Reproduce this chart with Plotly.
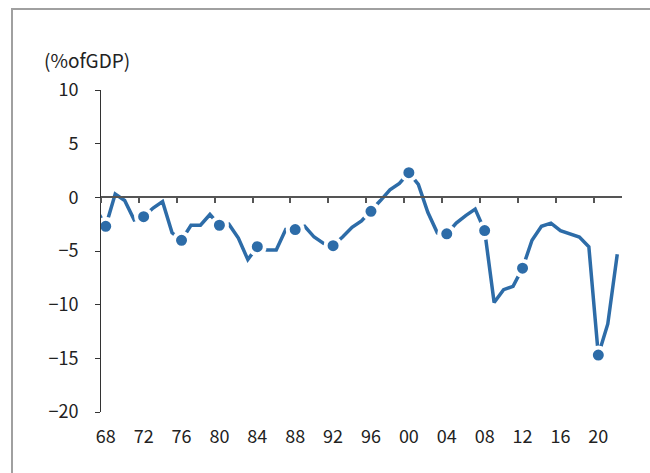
import plotly.graph_objects as go

years = list(range(1967, 2023))
balance = [-1.1, -2.7, 0.3, -0.3, -2.1, -1.8, -1.0, -0.4, -3.3, -4.0,
           -2.6, -2.6, -1.6, -2.6, -2.5, -3.8, -5.8, -4.6, -4.9, -4.9,
           -3.0, -3.0, -2.7, -3.7, -4.3, -4.5, -3.7, -2.8, -2.2, -1.3,
           -0.3, 0.7, 1.3, 2.3, 1.2, -1.4, -3.3, -3.4, -2.4, -1.7,
           -1.1, -3.1, -9.8, -8.6, -8.3, -6.6, -4.0, -2.7, -2.4, -3.1,
           -3.4, -3.7, -4.6, -14.7, -11.8, -5.3]
tick_years = list(range(1968, 2021, 4))
tick_labels = ["68", "72", "76", "80", "84", "88", "92", "96", "00",
               "04", "08", "12", "16", "20"]
marker_years = [1968, 1972, 1976, 1980, 1984, 1988, 1992, 1996, 2000,
                2004, 2008, 2012, 2020]
y_ticks = [10, 5, 0, -5, -10, -15, -20]

lookup = dict(zip(years, balance))
marker_vals = [lookup[y] for y in marker_years]

color = "#2d6ca8"
font = "Noto Sans CJK KR"

fig = go.Figure()
fig.add_trace(go.Scatter(x=years, y=balance, mode="lines",
                         line=dict(color=color, width=3.5),
                         hoverinfo="skip", showlegend=False))
fig.add_trace(go.Scatter(x=marker_years, y=marker_vals, mode="markers",
                         xaxis="x2", yaxis="y",
                         marker=dict(color=color, size=15,
                                     line=dict(color="white", width=4)),
                         cliponaxis=False, showlegend=False))

xr = [1967.5, 2022.5]
fig.update_layout(
    width=650, height=473,
    margin=dict(l=101, r=28, t=90, b=61),
    paper_bgcolor="white", plot_bgcolor="white",
    font=dict(family=font, size=18, color="#222"),
    xaxis=dict(range=xr, tickmode="array", tickvals=tick_years,
               ticktext=tick_labels, showline=False, ticks="",
               showgrid=False, zeroline=False, ticklabelstandoff=12,
               tickfont=dict(size=18, color="#222")),
    xaxis2=dict(range=xr, overlaying="x", anchor="free", position=2/3,
                side="bottom", showline=True, linecolor="#555", linewidth=2,
                ticks="outside", ticklen=5, tickwidth=2, tickcolor="#555",
                tickmode="array",
                tickvals=[y - 0.5 for y in tick_years],
                showticklabels=False, showgrid=False, zeroline=False),
    yaxis=dict(range=[-20, 10], tickmode="array", tickvals=y_ticks,
               showline=True, linecolor="#333", linewidth=1,
               ticks="outside", ticklen=5, tickcolor="#333", tickwidth=1,
               showgrid=False, zeroline=False,
               ticklabelstandoff=13,
               tickfont=dict(size=18, color="#222")),
    shapes=[dict(type="rect", xref="paper", yref="paper",
                 x0=(12 - 101) / 521, x1=(700 - 101) / 521,
                 y0=(412 - 520) / 322, y1=(412 - 9) / 322,
                 line=dict(color="#a0a0a0", width=2), fillcolor="rgba(0,0,0,0)",
                 layer="below")],
    annotations=[dict(text="(%ofGDP)", xref="paper", yref="paper",
                      x=(42 - 101) / 521, y=(412 - 60) / 322,
                      xanchor="left", yanchor="middle", showarrow=False,
                      font=dict(size=19, color="#222"))],
)

fig.write_html("out.html", config={"displayModeBar": False},
               post_script="document.body.style.margin='0';document.body.style.overflow='hidden';")
